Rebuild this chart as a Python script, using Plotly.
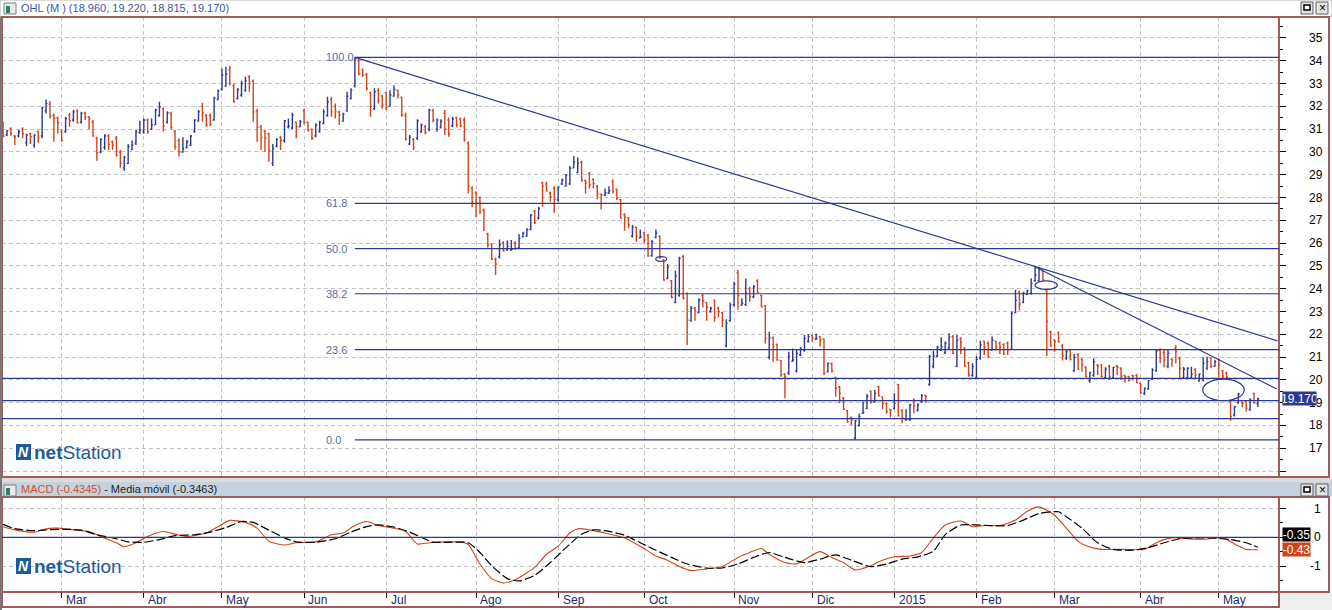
import pandas as pd
import plotly.graph_objects as go

W, H = 1332, 610

# ---------------- data ----------------
HOLIDAYS = ["2014-04-18", "2014-04-21", "2014-05-01", "2014-12-25", "2014-12-26",
            "2015-01-01", "2015-04-03", "2015-04-06", "2015-05-01"]
MONTHS = ["Ene", "Feb", "Mar", "Abr", "May", "Jun", "Jul", "Ago", "Sep", "Oct", "Nov", "Dic"]

OPEN = [
    31.2, 30.75, 31.0, 30.7, 30.7, 31.0, 30.4, 30.8, 30.3, 30.9,
    30.7, 31.8, 32.1, 31.6, 31.5, 30.9, 30.9, 31.6, 31.4, 31.8,
    31.3, 31.7, 31.55, 31.3, 30.6, 30.0, 30.2, 30.7, 30.45, 30.6,
    30.0, 29.3, 29.5, 30.1, 30.4, 30.85, 30.9, 31.4, 31.0, 31.2,
    31.6, 31.9, 31.3, 31.7, 30.9, 30.5, 30.0, 30.2, 30.3, 30.9,
    31.35, 32.0, 31.6, 31.6, 31.4, 32.3, 32.75, 32.9, 33.6, 32.9,
    32.35, 32.5, 32.7, 33.3, 33.1, 31.8, 31.1, 30.9, 30.8, 29.5,
    30.25, 30.65, 30.5, 31.1, 31.05, 31.3, 31.1, 31.8, 31.3, 31.0,
    30.7, 30.9, 31.25, 31.6, 32.3, 32.0, 31.75, 31.35, 31.8, 32.35,
    32.9, 34.0, 33.6, 33.4, 32.6, 31.9, 32.7, 32.45, 32.6, 32.0,
    32.45, 32.7, 32.4, 31.6, 30.35, 30.55, 30.6, 30.9, 31.1, 31.0,
    31.8, 31.0, 31.1, 31.7, 31.4, 31.15, 31.5, 31.45, 31.4, 30.4,
    28.4, 28.2, 28.0, 27.45, 26.4, 25.95, 25.3, 25.4, 26.0, 25.7,
    25.7, 26.0, 25.8, 26.28, 26.3, 26.6, 27.4, 27.1, 28.65, 28.6,
    28.2, 28.4, 27.9, 28.6, 28.5, 28.6, 29.3, 29.1, 29.55, 28.75,
    29.05, 28.8, 28.5, 28.15, 28.1, 28.2, 28.7, 28.35, 27.9, 27.25,
    27.1, 26.3, 26.7, 26.22, 26.45, 26.35, 25.45, 26.25, 26.3, 25.25,
    24.45, 24.35, 23.4, 23.7, 25.4, 23.8, 22.6, 23.15, 22.95, 23.7,
    23.4, 23.0, 23.5, 23.15, 22.95, 21.5, 22.6, 23.3, 24.7, 23.28,
    23.3, 24.0, 23.65, 24.35, 23.7, 23.25, 21.0, 21.85, 21.55, 20.85,
    20.25, 20.3, 20.82, 20.4, 21.1, 21.3, 21.7, 21.95, 21.78, 21.9,
    21.8, 20.35, 20.7, 20.1, 19.7, 19.2, 18.65, 18.35, 17.45, 18.0,
    18.53, 18.75, 19.5, 19.05, 19.7, 19.25, 18.95, 18.7, 18.75, 19.8,
    18.65, 18.25, 18.25, 19.1, 18.65, 19.05, 19.32, 19.8, 20.6, 21.05,
    21.3, 21.2, 21.4, 21.9, 20.6, 21.8, 21.4, 20.75, 20.2, 20.1,
    20.95, 21.7, 21.6, 21.3, 21.7, 21.6, 21.55, 21.6, 21.35, 22.95,
    23.85, 23.4, 23.75, 23.8, 24.35, 24.35, 24.8, 23.9, 22.1, 21.75,
    22.05, 21.5, 20.95, 21.3, 20.4, 21.1, 20.9, 20.55, 19.95, 20.2,
    20.65, 20.65, 20.1, 20.6, 20.1, 20.6, 20.5, 20.2, 20.15, 20.2,
    20.2, 19.85, 19.4, 19.6, 20.05, 20.4, 21.3, 21.2, 20.6, 20.9,
    21.4, 20.95, 20.1, 20.1, 20.1, 20.45, 19.95, 20.0, 20.5, 20.95,
    20.6, 20.9, 20.4, 20.3, 19.05, 18.45, 19.0, 19.02, 19.05, 18.7, 19.4, 18.96,
]
HIGH = [
    31.35, 30.96, 31.08, 30.74, 30.96, 31.08, 30.8, 30.84, 30.78, 30.93,
    31.98, 32.3, 32.23, 31.69, 31.54, 31.0, 31.54, 31.72, 31.84, 31.87,
    31.76, 31.76, 31.57, 31.4, 30.67, 30.6, 30.78, 30.78, 30.5, 30.7,
    30.08, 29.82, 30.35, 30.5, 30.96, 31.37, 31.47, 31.47, 31.47, 31.9,
    32.2, 31.95, 31.79, 31.76, 30.96, 30.6, 30.64, 30.52, 30.74, 31.43,
    31.84, 32.16, 31.66, 31.69, 32.42, 32.74, 33.66, 33.74, 33.77, 33.0,
    32.79, 33.12, 33.3, 33.37, 33.18, 31.9, 31.18, 30.96, 30.84, 30.35,
    30.6, 30.7, 31.4, 31.47, 31.72, 31.32, 31.4, 31.9, 31.32, 31.03,
    31.25, 31.37, 31.87, 32.42, 32.42, 32.13, 31.8, 31.72, 32.64, 32.79,
    34.15, 34.1, 33.66, 33.47, 32.64, 32.79, 32.79, 32.5, 32.64, 32.71,
    32.93, 32.74, 32.42, 31.72, 30.74, 30.6, 31.43, 31.25, 31.18, 31.9,
    31.9, 31.47, 31.43, 31.84, 31.51, 31.54, 31.54, 31.51, 31.51, 30.45,
    28.5, 28.28, 28.04, 27.52, 26.46, 25.99, 25.36, 26.16, 26.09, 26.11,
    26.14, 26.09, 26.4, 26.5, 26.65, 27.28, 27.45, 27.6, 28.69, 28.69,
    28.26, 28.5, 28.5, 28.84, 29.03, 29.38, 29.82, 29.76, 29.61, 28.77,
    29.13, 28.84, 28.55, 28.18, 28.4, 28.5, 28.8, 28.4, 27.92, 27.31,
    27.13, 26.79, 26.72, 26.6, 26.5, 26.4, 26.14, 26.6, 26.35, 25.29,
    25.08, 24.38, 24.79, 25.4, 25.48, 23.83, 23.24, 23.21, 23.58, 23.77,
    23.43, 23.21, 23.53, 23.21, 22.99, 22.66, 23.39, 24.31, 24.82, 23.58,
    24.45, 24.09, 24.16, 24.41, 23.72, 23.28, 22.11, 21.9, 21.6, 20.87,
    20.29, 21.24, 21.38, 21.31, 21.43, 21.97, 22.01, 21.97, 22.04, 21.92,
    21.82, 20.76, 20.76, 20.14, 19.73, 19.26, 18.68, 18.39, 18.24, 18.53,
    19.05, 19.38, 19.53, 19.56, 19.74, 19.27, 19.0, 18.71, 19.41, 19.82,
    18.71, 18.71, 18.95, 19.19, 18.97, 19.38, 19.34, 21.09, 21.28, 21.49,
    21.87, 21.68, 22.05, 21.97, 21.97, 21.87, 21.43, 20.8, 20.73, 21.05,
    21.72, 21.72, 21.68, 21.9, 21.72, 21.68, 21.61, 21.68, 23.0, 23.95,
    23.92, 23.87, 23.95, 24.46, 24.97, 24.94, 24.85, 23.97, 22.16, 21.78,
    22.12, 21.58, 21.34, 21.34, 21.14, 21.17, 20.95, 20.61, 20.36, 20.95,
    20.7, 20.7, 20.55, 20.66, 20.58, 20.66, 20.55, 20.22, 20.17, 20.22,
    20.26, 19.88, 19.68, 20.0, 20.51, 21.34, 21.39, 21.34, 21.31, 20.95,
    21.53, 21.02, 20.58, 20.55, 20.58, 20.51, 20.29, 20.99, 21.02, 20.99,
    20.88, 20.95, 20.44, 20.36, 19.09, 18.86, 19.44, 19.05, 19.09, 19.19, 19.44, 19.22,
]
LOW = [
    30.64, 30.7, 30.71, 30.3, 30.64, 30.6, 30.26, 30.35, 30.18, 30.4,
    30.6, 31.69, 31.47, 30.45, 30.81, 30.45, 30.84, 31.1, 31.32, 31.25,
    31.25, 31.4, 31.0, 30.67, 29.61, 29.94, 30.1, 30.08, 30.1, 29.8,
    29.32, 29.18, 29.47, 30.08, 30.3, 30.8, 30.8, 30.8, 30.96, 31.18,
    31.54, 30.9, 31.25, 31.0, 30.1, 29.8, 29.96, 30.15, 30.26, 30.84,
    31.32, 31.32, 31.1, 31.13, 31.37, 32.27, 32.7, 32.86, 32.93, 32.16,
    32.3, 32.42, 32.64, 32.64, 31.32, 30.45, 30.08, 30.0, 29.57, 29.38,
    30.2, 30.08, 30.4, 31.03, 31.0, 30.6, 31.08, 31.22, 30.9, 30.52,
    30.64, 30.84, 31.22, 31.54, 31.54, 31.47, 31.18, 31.32, 31.76, 32.3,
    32.83, 33.37, 33.3, 32.68, 31.54, 31.84, 32.13, 31.9, 31.84, 31.98,
    32.42, 32.35, 31.54, 30.5, 30.3, 30.08, 30.52, 30.84, 30.78, 30.9,
    31.3, 30.89, 31.03, 30.74, 30.67, 31.08, 31.08, 31.08, 30.45, 28.18,
    27.57, 27.13, 27.28, 26.54, 25.81, 25.26, 24.6, 25.33, 25.62, 25.67,
    25.67, 25.7, 25.77, 26.25, 26.28, 26.57, 26.84, 27.04, 27.6, 28.26,
    27.82, 27.33, 27.82, 28.55, 28.47, 28.55, 29.28, 29.06, 28.69, 28.18,
    28.4, 28.4, 27.92, 27.48, 28.07, 28.15, 28.18, 27.89, 27.09, 26.54,
    26.65, 26.25, 26.06, 26.21, 25.99, 25.4, 25.4, 26.21, 25.33, 24.35,
    24.41, 23.58, 23.36, 23.65, 23.53, 21.53, 22.55, 22.6, 22.92, 23.18,
    22.6, 22.95, 22.55, 22.74, 22.31, 21.43, 22.55, 23.21, 23.09, 23.24,
    23.24, 23.43, 23.58, 23.8, 23.18, 21.6, 20.9, 20.8, 20.84, 20.14,
    19.19, 20.21, 20.8, 20.32, 21.05, 21.24, 21.63, 21.68, 21.75, 21.46,
    20.21, 20.32, 20.32, 19.26, 18.97, 18.68, 18.12, 18.02, 17.37, 17.95,
    18.51, 18.71, 18.95, 19.0, 19.27, 18.71, 18.51, 18.36, 18.71, 18.39,
    18.1, 18.21, 18.21, 18.54, 18.61, 19.0, 19.0, 19.74, 20.51, 20.99,
    21.28, 21.14, 21.31, 21.14, 20.55, 21.14, 20.58, 20.14, 20.14, 20.07,
    20.88, 21.09, 20.95, 21.28, 21.28, 21.14, 21.09, 21.09, 21.31, 22.92,
    23.04, 23.36, 23.73, 23.73, 24.31, 24.31, 24.35, 21.05, 21.46, 21.24,
    21.64, 20.85, 20.88, 20.85, 20.36, 20.44, 20.36, 20.12, 19.88, 20.14,
    20.22, 20.12, 20.07, 20.0, 20.07, 20.22, 20.0, 19.88, 19.93, 19.97,
    19.85, 19.38, 19.34, 19.59, 20.0, 20.36, 20.73, 20.55, 20.51, 20.58,
    20.73, 20.07, 20.03, 20.03, 20.03, 20.03, 19.93, 19.93, 20.44, 20.51,
    20.58, 20.12, 20.07, 20.07, 18.21, 18.39, 18.95, 18.8, 18.61, 18.65, 18.95, 18.815,
]
CLOSE = [
    30.7, 30.93, 30.81, 30.64, 30.9, 30.8, 30.74, 30.67, 30.74, 30.64,
    31.95, 32.13, 31.57, 31.47, 31.28, 30.52, 31.47, 31.37, 31.76, 31.28,
    31.69, 31.51, 31.47, 30.7, 29.96, 30.55, 30.7, 30.33, 30.3, 29.86,
    29.5, 29.76, 30.23, 30.3, 30.9, 30.96, 31.4, 30.9, 31.2, 31.84,
    31.98, 31.13, 31.72, 31.08, 30.23, 30.0, 30.15, 30.45, 30.7, 31.4,
    31.76, 31.72, 31.18, 31.22, 32.35, 32.68, 33.37, 33.42, 33.0, 32.2,
    32.74, 33.0, 33.12, 33.0, 31.76, 31.08, 30.64, 30.6, 30.08, 30.15,
    30.55, 30.5, 31.37, 31.13, 31.62, 31.1, 31.32, 31.28, 30.96, 30.6,
    31.18, 31.32, 31.76, 32.2, 31.76, 31.76, 31.62, 31.66, 32.45, 32.71,
    34.06, 33.42, 33.37, 32.79, 32.0, 32.64, 32.25, 32.05, 31.95, 32.5,
    32.74, 32.5, 31.62, 30.55, 30.64, 30.2, 31.37, 31.18, 30.84, 31.84,
    31.4, 31.4, 31.35, 31.0, 30.8, 31.45, 31.2, 31.15, 30.55, 28.5,
    27.82, 27.77, 27.38, 26.57, 25.92, 25.29, 25.08, 25.92, 25.67, 25.87,
    25.73, 25.77, 26.21, 26.43, 26.6, 27.23, 26.9, 27.52, 28.5, 28.28,
    28.04, 27.92, 28.45, 28.77, 28.99, 29.28, 29.57, 29.5, 28.77, 28.65,
    28.55, 28.62, 28.18, 28.11, 28.21, 28.3, 28.26, 27.96, 27.1, 27.13,
    26.79, 26.69, 26.31, 26.28, 26.14, 25.43, 26.06, 26.43, 25.36, 24.38,
    24.94, 23.62, 24.56, 25.33, 23.58, 22.63, 23.14, 23.07, 23.5, 23.47,
    23.18, 23.14, 22.74, 22.99, 22.63, 22.48, 23.28, 24.21, 23.72, 23.36,
    23.8, 23.65, 24.09, 23.83, 23.21, 21.82, 21.82, 21.46, 20.87, 20.21,
    20.14, 21.02, 20.87, 21.16, 21.38, 21.82, 21.9, 21.82, 21.82, 21.75,
    20.29, 20.73, 20.4, 19.63, 19.41, 18.71, 18.17, 18.24, 18.21, 18.4,
    18.57, 19.27, 19.05, 19.41, 19.3, 18.97, 18.61, 18.68, 18.97, 18.42,
    18.32, 18.27, 18.9, 18.86, 18.9, 19.3, 19.27, 21.02, 21.05, 21.43,
    21.46, 21.61, 21.87, 21.17, 21.75, 21.64, 20.61, 20.22, 20.58, 20.9,
    21.53, 21.43, 21.02, 21.75, 21.46, 21.43, 21.14, 21.31, 22.92, 23.48,
    23.33, 23.8, 23.92, 24.24, 24.6, 24.85, 24.38, 22.56, 21.49, 21.68,
    21.68, 21.05, 21.24, 20.9, 20.99, 20.47, 20.66, 20.14, 20.32, 20.8,
    20.61, 20.14, 20.47, 20.14, 20.55, 20.55, 20.17, 20.14, 19.97, 20.17,
    19.88, 19.44, 19.63, 19.97, 20.44, 21.28, 20.95, 20.88, 21.17, 20.88,
    21.24, 20.51, 20.47, 20.51, 20.26, 20.22, 20.26, 20.73, 20.8, 20.61,
    20.8, 20.66, 20.17, 20.12, 18.39, 18.83, 19.38, 18.97, 18.75, 19.12, 19.0, 19.17,
]

MACD_IDX = [0, 3, 8, 11, 14, 18, 22, 25, 29, 31, 34, 37, 41, 44, 47, 52, 55, 58, 62, 65,
            68, 72, 75, 80, 84, 87, 90, 93, 96, 100, 103, 106, 109, 114, 117, 119, 122, 125, 128, 131,
            136, 139, 142, 145, 147, 150, 154, 159, 163, 167, 170, 173, 176, 180, 184, 188, 191, 194, 196, 200,
            203, 206, 209, 212, 215, 218, 222, 225, 228, 232, 235, 238, 241, 245, 248, 251, 255, 259, 262, 265,
            269, 272, 275, 278, 281, 287, 292, 295, 299, 303, 307, 312, 315, 318, 321]
MACD_VAL = [0.37, 0.26, 0.18, 0.30, 0.32, 0.26, 0.20, 0.03, -0.19, -0.33, -0.19, 0.03, 0.20, 0.11, 0.03, 0.15, 0.37, 0.59, 0.52, 0.32,
            -0.14, -0.27, -0.19, -0.16, 0.09, 0.15, 0.41, 0.55, 0.41, 0.32, 0.20, -0.23, -0.19, -0.16, -0.16, -0.25, -0.93, -1.44, -1.59, -1.48,
            -1.05, -0.59, -0.31, 0.15, 0.30, 0.26, 0.15, -0.02, -0.31, -0.65, -0.80, -1.02, -1.16, -1.10, -1.02, -0.70, -0.53, -0.39, -0.59, -0.88,
            -0.93, -0.70, -0.50, -0.70, -0.88, -1.14, -0.99, -0.80, -0.68, -0.65, -0.53, -0.02, 0.43, 0.57, 0.37, 0.41, 0.41, 0.60, 0.91, 1.06,
            0.77, 0.32, -0.14, -0.34, -0.42, -0.42, -0.42, -0.19, -0.02, -0.05, -0.07, -0.02, -0.23, -0.42, -0.4345]
SIG_IDX = [0, 3, 8, 12, 16, 20, 24, 29, 32, 36, 40, 44, 49, 53, 57, 61, 64, 67, 72, 75,
           80, 85, 89, 93, 96, 100, 104, 107, 110, 115, 119, 122, 125, 129, 132, 136, 140, 144, 148, 151,
           154, 159, 163, 167, 171, 175, 180, 184, 188, 192, 196, 200, 205, 209, 213, 217, 222, 226, 230, 234,
           238, 241, 245, 249, 253, 257, 261, 265, 270, 272, 276, 280, 284, 289, 293, 297, 301, 305, 309, 314,
           318, 321]
SIG_VAL = [0.45, 0.30, 0.23, 0.27, 0.28, 0.25, 0.09, -0.05, -0.16, -0.17, -0.08, 0.06, 0.09, 0.18, 0.34, 0.55, 0.52, 0.32, -0.02, -0.16,
           -0.17, -0.05, 0.18, 0.375, 0.43, 0.36, 0.18, 0.0, -0.17, -0.17, -0.19, -0.53, -0.99, -1.44, -1.52, -1.33, -0.88, -0.36, 0.11, 0.26,
           0.23, 0.07, -0.19, -0.45, -0.70, -0.93, -1.07, -1.07, -0.93, -0.70, -0.53, -0.70, -0.88, -0.76, -0.61, -0.80, -1.02, -0.93, -0.76, -0.68,
           -0.48, 0.09, 0.43, 0.43, 0.41, 0.41, 0.60, 0.83, 0.89, 0.72, 0.32, -0.19, -0.42, -0.45, -0.36, -0.19, -0.05, -0.02, -0.02, -0.08,
           -0.19, -0.3463]

FIB_HIGH, FIB_LOW, FIB_START = 34.15, 17.37, 90
FIB_RATIOS = [1.0, 0.618, 0.5, 0.382, 0.236, 0.0]
FIB_LABELS = ["100.0", "61.8", "50.0", "38.2", "23.6", "0.0"]
SUPPORT_LEVELS = [20.07, 19.09, 18.30]
TREND1_X, TREND1_Y = [90, 326], [34.15, 21.71]
TREND2_X, TREND2_Y = [263.6, 325.8], [25.0, 19.6]
ELLIPSES = [(166.96, 169.77, 25.20, 25.41), (263.97, 269.7, 23.97, 24.34), (306.9, 317.5, 19.09, 20.03)]
PRICE_TICKS = list(range(17, 36))
MACD_TICKS = [1, 0, -1]
TITLE = "OHL (M ) (18.960, 19.220, 18.815, 19.170)"

# ---------------- helpers ----------------
BLUE = "#2b3990"
RED = "#d2431b"
BROWN = "#a25a5a"
GRID = "#c4c4c4"
FONT = "Liberation Sans, Arial, sans-serif"


def px(x):
    return x / W


def py(y):
    return 1 - y / H


days = pd.bdate_range("2014-02-10", "2015-06-30")
days = days[~days.isin(pd.to_datetime(HOLIDAYS))][:len(CLOSE)]
X = list(range(len(CLOSE)))
tick_i, tick_t = [], []
for k in range(1, len(days)):
    if days[k].month != days[k - 1].month:
        tick_i.append(k)
        tick_t.append(str(days[k].year) if days[k].month == 1 else MONTHS[days[k].month - 1])

XR = [-0.27, 326.4]
XDOM = [px(2), px(1279)]

fig = go.Figure()
fig.add_trace(go.Ohlc(
    x=X, open=OPEN, high=HIGH, low=LOW, close=CLOSE, tickwidth=0.35,
    increasing=dict(line=dict(color=BLUE, width=1.4)),
    decreasing=dict(line=dict(color=RED, width=1.4)),
    xaxis="x", yaxis="y", showlegend=False, hoverinfo="skip"))
fig.add_trace(go.Scatter(
    x=MACD_IDX, y=MACD_VAL, mode="lines", xaxis="x2", yaxis="y2", showlegend=False,
    line=dict(color=RED, width=1.1, shape="spline", smoothing=0.6), hoverinfo="skip"))
fig.add_trace(go.Scatter(
    x=SIG_IDX, y=SIG_VAL, mode="lines", xaxis="x2", yaxis="y2", showlegend=False,
    line=dict(color="black", width=1.2, dash="9px,3px", shape="spline", smoothing=0.6), hoverinfo="skip"))

shapes = []
annots = []

# backgrounds / frame
shapes += [
    dict(type="rect", xref="paper", yref="paper", x0=0, x1=1, y0=py(0), y1=py(16.5),
         fillcolor="white", line=dict(color="#b8b8b8", width=1), layer="below"),
    dict(type="rect", xref="paper", yref="paper", x0=0, x1=1, y0=py(478), y1=py(482),
         fillcolor="#dcdcdc", line=dict(width=0)),
    dict(type="rect", xref="paper", yref="paper", x0=0, x1=1, y0=py(482), y1=py(496.5),
         fillcolor="#c5d2de", line=dict(width=0)),
    dict(type="rect", xref="paper", yref="paper", x0=px(1280), x1=1, y0=py(593), y1=py(610),
         fillcolor="#eeeeee", line=dict(width=0)),
]
for (x0, x1, y0, y1) in [(2, 1279, 17, 477), (1279, 1329, 17, 477), (2, 1279, 497, 592),
                         (1279, 1329, 497, 592), (2, 1279, 592, 607)]:
    shapes.append(dict(type="rect", xref="paper", yref="paper", x0=px(x0), x1=px(x1),
                       y0=py(y0), y1=py(y1), line=dict(color=BROWN, width=2)))
shapes.append(dict(type="line", xref="paper", yref="paper", x0=px(1), x1=px(1), y0=py(17), y1=py(610),
                   line=dict(color="#777777", width=2)))

# fib retracement lines + labels
for r, lab in zip(FIB_RATIOS, FIB_LABELS):
    lvl = FIB_LOW + r * (FIB_HIGH - FIB_LOW)
    shapes.append(dict(type="line", xref="x", yref="y", x0=FIB_START, x1=XR[1], y0=lvl, y1=lvl,
                       line=dict(color=BLUE, width=1.2)))
    annots.append(dict(x=82.1, y=lvl, xref="x", yref="y", text=lab, showarrow=False,
                       xanchor="left", yanchor="middle", font=dict(family=FONT, size=11, color="#5b6ea6")))
for lvl in SUPPORT_LEVELS:
    shapes.append(dict(type="line", xref="x", yref="y", x0=XR[0], x1=XR[1], y0=lvl, y1=lvl,
                       line=dict(color=BLUE, width=1.2)))
for tx, ty in [(TREND1_X, TREND1_Y), (TREND2_X, TREND2_Y)]:
    shapes.append(dict(type="line", xref="x", yref="y", x0=tx[0], x1=tx[1], y0=ty[0], y1=ty[1],
                       line=dict(color=BLUE, width=1.2)))
for (x0, x1, y0, y1) in ELLIPSES:
    shapes.append(dict(type="circle", xref="x", yref="y", x0=x0, x1=x1, y0=y0, y1=y1,
                       line=dict(color=BLUE, width=1.2)))

# MACD zero line
shapes.append(dict(type="line", xref="x2", yref="y2", x0=XR[0], x1=XR[1], y0=0, y1=0,
                   line=dict(color=BLUE, width=1.2)))

# y tick labels (right aligned)
for v in PRICE_TICKS:
    annots.append(dict(x=px(1325), y=v, xref="paper", yref="y", text=str(v), showarrow=False,
                       xanchor="right", yanchor="middle", font=dict(family=FONT, size=12, color="black")))
for v in MACD_TICKS:
    annots.append(dict(x=px(1323), y=v, xref="paper", yref="y2", text=str(v), showarrow=False,
                       xanchor="right", yanchor="middle", font=dict(family=FONT, size=12, color="black")))

# month labels
for i, t in zip(tick_i, tick_t):
    annots.append(dict(x=i + 0.6, y=py(600), xref="x2", yref="paper", text=t, showarrow=False,
                       xanchor="left", yanchor="middle", font=dict(family=FONT, size=12, color="#1c2a6e")))

# last price box
annots.append(dict(x=px(1282), y=CLOSE[-1], xref="paper", yref="y", text=f"{CLOSE[-1]:.3f}",
                   showarrow=False, xanchor="left", yanchor="middle", width=33, height=13,
                   bgcolor=BLUE, font=dict(family=FONT, size=12, color="white"), borderpad=0))
# MACD value boxes
annots.append(dict(x=px(1282), y=py(534.5), xref="paper", yref="paper", text=f"{SIG_VAL[-1]:.2f}",
                   showarrow=False, xanchor="left", yanchor="middle", width=27, height=13,
                   bgcolor="black", font=dict(family=FONT, size=12, color="white"), borderpad=0))
annots.append(dict(x=px(1282), y=py(549.5), xref="paper", yref="paper", text=f"{MACD_VAL[-1]:.2f}",
                   showarrow=False, xanchor="left", yanchor="middle", width=27, height=13,
                   bgcolor=RED, font=dict(family=FONT, size=12, color="white"), borderpad=0))

# titles
annots.append(dict(x=px(19), y=py(8), xref="paper", yref="paper", text=TITLE, showarrow=False,
                   xanchor="left", yanchor="middle", font=dict(family=FONT, size=11, color="#3d58a8")))
annots.append(dict(x=px(19), y=py(489), xref="paper", yref="paper",
                   text=f"<span style='color:#d0502c'>MACD ({MACD_VAL[-1]:.4f})</span>"
                        f"<span style='color:#222222'> - Media móvil ({SIG_VAL[-1]:.4f})</span>",
                   showarrow=False, xanchor="left", yanchor="middle", font=dict(family=FONT, size=11)))

# window icons / buttons
for yt in [2, 484]:
    shapes.append(dict(type="rect", xref="paper", yref="paper", x0=px(4), x1=px(16), y0=py(yt + 1), y1=py(yt + 12),
                       fillcolor="#e8ece8", line=dict(color="#808080", width=1)))
    shapes.append(dict(type="rect", xref="paper", yref="paper", x0=px(6), x1=px(10), y0=py(yt + 4), y1=py(yt + 11),
                       fillcolor="#2f7d6a", line=dict(width=0)))
    for bx in [1301, 1316]:
        shapes.append(dict(type="rect", xref="paper", yref="paper", x0=px(bx), x1=px(bx + 12),
                           y0=py(yt), y1=py(yt + 12), fillcolor="#e4e4e4", line=dict(color="#606060", width=1)))
    shapes.append(dict(type="rect", xref="paper", yref="paper", x0=px(1304), x1=px(1310),
                       y0=py(yt + 3), y1=py(yt + 8), fillcolor="white", line=dict(color="black", width=1.5)))
    annots.append(dict(x=px(1322), y=py(yt + 6), xref="paper", yref="paper", text="×", showarrow=False,
                       xanchor="center", yanchor="middle", font=dict(family=FONT, size=12, color="black")))

# netStation logos
for yc in [452, 566]:
    shapes.append(dict(type="rect", xref="paper", yref="paper", x0=px(16), x1=px(31), y0=py(yc - 8), y1=py(yc + 8),
                       fillcolor="#1d5a9a", line=dict(width=0)))
    annots.append(dict(x=px(23.5), y=py(yc), xref="paper", yref="paper", text="<b><i>N</i></b>", showarrow=False,
                       xanchor="center", yanchor="middle", font=dict(family=FONT, size=14, color="white")))
    annots.append(dict(x=px(32), y=py(yc), xref="paper", yref="paper", text="<b>net</b>Station", showarrow=False,
                       xanchor="left", yanchor="middle", font=dict(family=FONT, size=19, color="#1d5a9a")))

xcommon = dict(range=XR, domain=XDOM, tickvals=tick_i, showgrid=True, gridcolor=GRID, griddash="4px,3px",
               gridwidth=1, zeroline=False, showticklabels=False, showline=False, fixedrange=True)

fig.update_layout(
    width=W, height=H, margin=dict(l=0, r=0, t=0, b=0),
    paper_bgcolor="white", plot_bgcolor="white", showlegend=False,
    font=dict(family=FONT),
    xaxis=dict(**xcommon, anchor="y", ticks="", rangeslider=dict(visible=False)),
    xaxis2=dict(**xcommon, anchor="y2", ticks="outside", ticklen=5, tickcolor="black"),
    yaxis=dict(domain=[py(477), py(17)], range=[15.74, 35.92], side="right", anchor="x",
               tickvals=list(range(16, 36)), ticks="outside", ticklen=6, tickcolor="black",
               showticklabels=False, showgrid=True, gridcolor=GRID, griddash="4px,3px", zeroline=False,
               minor=dict(tickvals=[v + 0.5 for v in range(15, 36)], ticks="outside", ticklen=3,
                          tickcolor="black", showgrid=False), fixedrange=True),
    yaxis2=dict(domain=[py(592), py(497)], range=[-1.906, 1.405], side="right", anchor="x2",
                tickvals=[-1, 0, 1], ticks="outside", ticklen=6, tickcolor="black",
                showticklabels=False, showgrid=True, gridcolor=GRID, griddash="4px,3px", zeroline=False,
                minor=dict(tickvals=[-1.5, -0.5, 0.5], ticks="outside", ticklen=3, tickcolor="black",
                           showgrid=False), fixedrange=True),
    shapes=shapes, annotations=annots,
)

fig.write_html("out.html", config={"displayModeBar": False},
               post_script="document.body.style.margin='0';document.body.style.overflow='hidden';")
